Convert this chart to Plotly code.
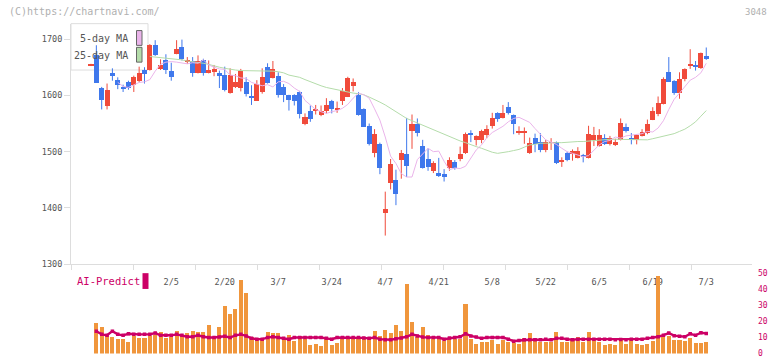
import plotly.graph_objects as go

W, H = 772, 361

tick_labels = ["2/5", "2/20", "3/7", "3/24", "4/7", "4/21", "5/8", "5/22", "6/5", "6/19", "7/3"]
tick_index = [15, 25, 35, 45, 55, 65, 75, 85, 95, 105, 115]

opens = [1653, 1673, 1614, 1582, 1640, 1627, 1614, 1625, 1619, 1626, 1645, 1645, 1690, 1648, 1664, 1643,
         1674, 1686, 1660, 1661, 1640, 1664, 1640, 1642, 1640, 1636, 1604, 1616, 1613, 1624, 1600, 1591,
         1606, 1651, 1631, 1635, 1616, 1601, 1601, 1607, 1550, 1573, 1573, 1565, 1572, 1591, 1576, 1591,
         1598, 1617, 1601, 1576, 1547, 1499, 1515, 1392, 1445, 1451, 1486, 1496, 1538, 1550, 1511, 1487,
         1466, 1462, 1461, 1472, 1483, 1487, 1499, 1534, 1522, 1521, 1531, 1547, 1569, 1560, 1580, 1565,
         1535, 1535, 1499, 1525, 1518, 1503, 1516, 1517, 1483, 1499, 1498, 1489, 1494, 1489, 1521, 1510,
         1525, 1514, 1513, 1521, 1544, 1524, 1521, 1528, 1533, 1557, 1568, 1585, 1642, 1626, 1604, 1629,
         1654, 1655, 1650, 1670]
highs = [1656, 1689, 1615, 1621, 1648, 1632, 1619, 1626, 1635, 1651, 1650, 1691, 1698, 1664, 1673, 1658,
         1698, 1699, 1668, 1668, 1671, 1665, 1662, 1654, 1644, 1651, 1648, 1638, 1647, 1632, 1618, 1627,
         1648, 1657, 1661, 1641, 1620, 1601, 1602, 1608, 1568, 1582, 1583, 1582, 1595, 1592, 1589, 1613,
         1633, 1630, 1606, 1577, 1550, 1540, 1516, 1429, 1487, 1468, 1503, 1560, 1566, 1559, 1521, 1506,
         1483, 1489, 1469, 1490, 1485, 1509, 1534, 1538, 1529, 1539, 1547, 1569, 1570, 1583, 1588, 1566,
         1545, 1543, 1525, 1532, 1533, 1521, 1524, 1518, 1490, 1500, 1504, 1508, 1496, 1546, 1544, 1540,
         1531, 1528, 1523, 1559, 1550, 1533, 1531, 1540, 1557, 1579, 1598, 1632, 1668, 1627, 1641, 1648,
         1682, 1661, 1676, 1685]
lows = [1652, 1622, 1575, 1575, 1626, 1611, 1606, 1610, 1606, 1623, 1621, 1644, 1670, 1645, 1638, 1626,
        1673, 1662, 1656, 1633, 1639, 1635, 1639, 1634, 1613, 1607, 1603, 1613, 1607, 1598, 1583, 1590,
        1603, 1621, 1630, 1596, 1588, 1573, 1582, 1559, 1547, 1553, 1566, 1563, 1568, 1568, 1569, 1583,
        1597, 1607, 1564, 1544, 1511, 1490, 1460, 1351, 1433, 1405, 1452, 1455, 1505, 1527, 1470, 1466,
        1462, 1455, 1447, 1466, 1468, 1483, 1496, 1517, 1511, 1515, 1524, 1541, 1553, 1559, 1566, 1531,
        1530, 1514, 1496, 1499, 1499, 1499, 1503, 1478, 1473, 1483, 1484, 1488, 1481, 1488, 1510, 1509,
        1512, 1511, 1510, 1520, 1534, 1513, 1513, 1527, 1531, 1556, 1563, 1584, 1624, 1601, 1594, 1625,
        1647, 1644, 1647, 1663]
closes = [1655, 1623, 1592, 1611, 1635, 1619, 1612, 1614, 1633, 1640, 1639, 1690, 1673, 1655, 1645, 1633,
          1683, 1666, 1663, 1640, 1662, 1641, 1645, 1648, 1635, 1610, 1636, 1624, 1643, 1603, 1596, 1620,
          1633, 1622, 1647, 1601, 1601, 1593, 1591, 1568, 1563, 1559, 1576, 1573, 1583, 1576, 1579, 1608,
          1631, 1624, 1565, 1545, 1515, 1532, 1471, 1399, 1478, 1426, 1499, 1475, 1550, 1533, 1471, 1473,
          1480, 1459, 1456, 1486, 1471, 1497, 1532, 1530, 1528, 1538, 1540, 1560, 1558, 1569, 1569, 1549,
          1536, 1536, 1516, 1514, 1503, 1517, 1517, 1481, 1484, 1486, 1501, 1502, 1492, 1532, 1531, 1531,
          1514, 1524, 1518, 1552, 1537, 1523, 1530, 1536, 1550, 1573, 1587, 1629, 1625, 1604, 1629, 1647,
          1655, 1652, 1675, 1665]

ma5 = [None, None, None, None, None, 1623, 1616, 1614, 1618, 1623, 1624, 1628, 1643, 1655, 1659, 1660,
       1659, 1658, 1656, 1658, 1657, 1663, 1654, 1650, 1647, 1646, 1636, 1635, 1631, 1630, 1623, 1620,
       1617, 1619, 1615, 1624, 1625, 1621, 1613, 1607, 1591, 1583, 1575, 1571, 1568, 1571, 1573, 1577,
       1584, 1595, 1604, 1601, 1595, 1576, 1556, 1526, 1492, 1479, 1461, 1455, 1455, 1486, 1497, 1506,
       1500, 1501, 1483, 1468, 1471, 1470, 1474, 1488, 1503, 1512, 1525, 1534, 1539, 1545, 1553, 1559,
       1561, 1556, 1552, 1541, 1530, 1521, 1517, 1513, 1506, 1500, 1497, 1494, 1491, 1493, 1503, 1512,
       1518, 1520, 1526, 1524, 1528, 1529, 1531, 1532, 1536, 1535, 1542, 1555, 1575, 1593, 1604, 1615,
       1627, 1632, 1640, 1657]
ma25 = [None, None, None, None, None, None, None, None, None, None, None, 1669, 1668, 1668, 1667, 1666,
        1665, 1663, 1661, 1660, 1659, 1657, 1655, 1652, 1650, 1648, 1646, 1645, 1644, 1644, 1644, 1643,
        1643, 1643, 1643, 1642, 1640, 1636, 1634, 1632, 1628, 1624, 1620, 1617, 1614, 1612, 1609, 1607,
        1605, 1604, 1603, 1601, 1597, 1593, 1588, 1583, 1577, 1571, 1565, 1559, 1555, 1551, 1547, 1542,
        1538, 1535, 1531, 1527, 1523, 1519, 1516, 1512, 1509, 1506, 1502, 1499, 1497, 1498, 1500, 1502,
        1504, 1508, 1512, 1513, 1515, 1515, 1516, 1516, 1516, 1517, 1517, 1518, 1518, 1519, 1520, 1520,
        1521, 1522, 1522, 1522, 1521, 1521, 1521, 1521, 1521, 1523, 1525, 1527, 1529, 1532, 1536, 1540,
        1546, 1553, 1563, 1573]

volume = [None, 19.4, 17, 12, 10.5, 9, 9, 7.7, 11, 10, 10, 11, 12, 13.5, 10, 10.5,
          14.5, 12, 13, 14.5, 14, 13.5, 18.3, 10, 17, 30, 25.2, 28.3, 46, 38, 10.8, 8.4,
          10, 13.5, 13, 13, 9.5, 12, 8, 11.4, 9.5, 5.3, 6, 5, 10.8, 5.3, 6.7, 9.5,
          9, 9, 9.5, 10.8, 10.8, 14.2, 11.4, 15.1, 13, 18.3, 14.5, 43.7, 20, 10.5, 17, 12,
          9, 10.8, 8, 9.3, 9, 9, 31.4, 9.3, 6, 7.7, 7.3, 8.4, 6, 8.4, 7.3, 6.7,
          6, 10, 13, 10, 7.3, 7.7, 7.3, 13.5, 7.3, 7.3, 8.4, 10.8, 7.3, 14, 10, 7.7,
          5.3, 6, 5.3, 9.5, 6, 8.4, 6.3, 5.3, 6.3, 8, 49, 10.8, 11.4, 8.4, 8.4, 8,
          10, 7, 6.7, 7.3]
ai_predict = [None, 14, 12, 11.4, 14, 12, 11.4, 12.4, 12, 12, 12, 12, 12.8, 11.4, 11.4, 11.4,
              12, 11.4, 10.5, 10.5, 11.4, 10.5, 10, 10, 10.3, 10.8, 10, 11.4, 12, 11, 9.5, 9,
              9, 10, 10.5, 10, 9.5, 9, 10, 10, 10, 10, 10, 10, 9.5, 9, 10, 10,
              10, 10, 10, 9.8, 9.5, 10, 9, 8.6, 8.6, 9.2, 9.7, 10.5, 12, 11, 10.3, 10,
              10, 10, 9, 9.7, 10, 10.5, 12.4, 11, 10.3, 9.5, 10, 10, 10, 10, 9, 7.7,
              8.2, 8.6, 8.6, 8.6, 8.6, 9, 8.6, 9.5, 9.5, 9, 8.6, 9, 9, 9, 9, 9,
              9, 9, 8.6, 8.8, 8.6, 9, 9, 9, 9.5, 10, 10.5, 11.5, 12.8, 11.2, 10.8, 10.5,
              12.4, 11.4, 13, 12.6]

RED = "#f04b3b"
BLUE = "#3f78ec"
ORANGE = "#f0963c"
MAGENTA = "#cc0066"
PINK = "#eab4ea"
GREEN = "#b4dcaa"
FONT = "DejaVu Sans Mono"

idx = list(range(len(closes)))


def px_x(p):
    return p / W


def px_y(p):
    return 1 - p / H


fig = go.Figure()

# wicks
for color, up in ((RED, True), (BLUE, False)):
    wx, wy = [], []
    for i in idx:
        if (closes[i] >= opens[i]) == up:
            wx += [i, i, None]
            wy += [lows[i], highs[i], None]
    fig.add_trace(go.Scatter(x=wx, y=wy, mode="lines", line=dict(color=color, width=1),
                             hoverinfo="skip", showlegend=False, xaxis="x", yaxis="y"))

# bodies
for color, up in ((RED, True), (BLUE, False)):
    bx, bbase, bh = [], [], []
    for i in idx:
        o, c = opens[i], closes[i]
        if (c >= o) == up:
            bx.append(i)
            bbase.append(min(o, c))
            bh.append(max(abs(c - o), 1.6))
    fig.add_trace(go.Bar(x=bx, y=bh, base=bbase, width=0.94, marker=dict(color=color, line=dict(width=0)),
                         showlegend=False, xaxis="x", yaxis="y"))

fig.add_trace(go.Scatter(x=idx, y=ma25, mode="lines", line=dict(color=GREEN, width=1),
                         showlegend=False, xaxis="x", yaxis="y"))
fig.add_trace(go.Scatter(x=idx, y=ma5, mode="lines", line=dict(color=PINK, width=1),
                         showlegend=False, xaxis="x", yaxis="y"))

# volume
fig.add_trace(go.Bar(x=idx, y=volume, width=0.75, marker=dict(color=ORANGE, line=dict(width=0)),
                     showlegend=False, xaxis="x2", yaxis="y2"))
fig.add_trace(go.Scatter(x=idx, y=ai_predict, mode="lines+markers",
                         line=dict(color=MAGENTA, width=2.4),
                         marker=dict(color=MAGENTA, size=3.5, symbol="square"),
                         showlegend=False, xaxis="x2", yaxis="y2"))

x_left_px, x_right_px = 71, 752
i_per_px = 1 / 5.35
x_range = [(x_left_px - 91) * i_per_px, (x_right_px - 91) * i_per_px]

main_top_px, main_bot_px = 24, 268
px_per_yen = 0.571
y_range = [1300, 1300 + (main_bot_px - main_top_px) / px_per_yen]

vol_zero_px = 358.5
vol_top_val = 55
vol_top_px = vol_zero_px - vol_top_val * 1.62

shapes = [
    dict(type="rect", xref="paper", yref="paper", x0=px_x(71), x1=px_x(148), y0=px_y(71), y1=px_y(24),
         line=dict(color="#dddddd", width=1), fillcolor="white", layer="below"),
    dict(type="rect", xref="paper", yref="paper", x0=px_x(136.5), x1=px_x(142), y0=px_y(46), y1=px_y(31),
         line=dict(color="#666666", width=1), fillcolor=PINK, layer="above"),
    dict(type="rect", xref="paper", yref="paper", x0=px_x(136.5), x1=px_x(142), y0=px_y(63), y1=px_y(48),
         line=dict(color="#666666", width=1), fillcolor=GREEN, layer="above"),
    dict(type="rect", xref="paper", yref="paper", x0=px_x(142.5), x1=px_x(148.5), y0=px_y(293), y1=px_y(277),
         line=dict(width=0), fillcolor=MAGENTA, layer="above"),
]

annotations = [
    dict(text="(C)https://chartnavi.com/", x=px_x(7), y=px_y(12), xref="paper", yref="paper",
         xanchor="left", yanchor="middle", showarrow=False, font=dict(family=FONT, size=10, color="#b0b0b0")),
    dict(text="3048", x=px_x(769), y=px_y(12), xref="paper", yref="paper",
         xanchor="right", yanchor="middle", showarrow=False, font=dict(family=FONT, size=9, color="#b0b0b0")),
    dict(text="5-day MA", x=px_x(130), y=px_y(39.5), xref="paper", yref="paper",
         xanchor="right", yanchor="middle", showarrow=False, font=dict(family=FONT, size=10, color="#555555")),
    dict(text="25-day MA", x=px_x(130), y=px_y(56.5), xref="paper", yref="paper",
         xanchor="right", yanchor="middle", showarrow=False, font=dict(family=FONT, size=10, color="#555555")),
    dict(text="AI-Predict", x=px_x(75), y=px_y(285), xref="paper", yref="paper",
         xanchor="left", yanchor="middle", showarrow=False, font=dict(family=FONT, size=10.5, color=MAGENTA)),
]

fig.update_layout(
    width=W, height=H,
    margin=dict(l=0, r=0, t=0, b=0),
    paper_bgcolor="white", plot_bgcolor="white",
    barmode="overlay", bargap=0,
    showlegend=False,
    shapes=shapes, annotations=annotations,
    xaxis=dict(domain=[px_x(x_left_px), px_x(x_right_px)], range=x_range, anchor="y",
               showgrid=False, zeroline=False, showline=True, linecolor="#dddddd", linewidth=1,
               tickmode="array", tickvals=tick_index, ticktext=tick_labels,
               ticks="outside", ticklen=10, tickcolor="rgba(0,0,0,0)",
               tickfont=dict(family=FONT, size=8.5, color="#555555"),
               minor=dict(ticks="outside", ticklen=5, tickcolor="#dddddd", tickwidth=1,
                          tick0=x_range[0], dtick=62 * i_per_px, showgrid=False),
               fixedrange=True),
    yaxis=dict(domain=[px_y(main_bot_px), px_y(main_top_px)], range=y_range, anchor="x",
               showgrid=False, zeroline=False, showline=True, linecolor="#dddddd", linewidth=1,
               tickmode="array", tickvals=[1300, 1400, 1500, 1600, 1700],
               ticks="outside", ticklen=6, tickcolor="#dddddd",
               tickfont=dict(family=FONT, size=8.5, color="#555555"), fixedrange=True),
    xaxis2=dict(domain=[px_x(x_left_px), px_x(x_right_px)], range=x_range, anchor="y2",
                showgrid=False, zeroline=False, showline=False, showticklabels=False, ticks="",
                fixedrange=True),
    yaxis2=dict(domain=[px_y(vol_zero_px), px_y(vol_top_px)], range=[0, vol_top_val], anchor="x2",
                side="right", showgrid=False, zeroline=False, showline=False,
                tickmode="array", tickvals=[0, 10, 20, 30, 40, 50], ticks="",
                ticklabelstandoff=5,
                tickfont=dict(family=FONT, size=8, color=MAGENTA), fixedrange=True),
)

fig.write_html("out.html", config={"displayModeBar": False},
               post_script="document.body.style.margin='0px';document.body.style.overflow='hidden';")
